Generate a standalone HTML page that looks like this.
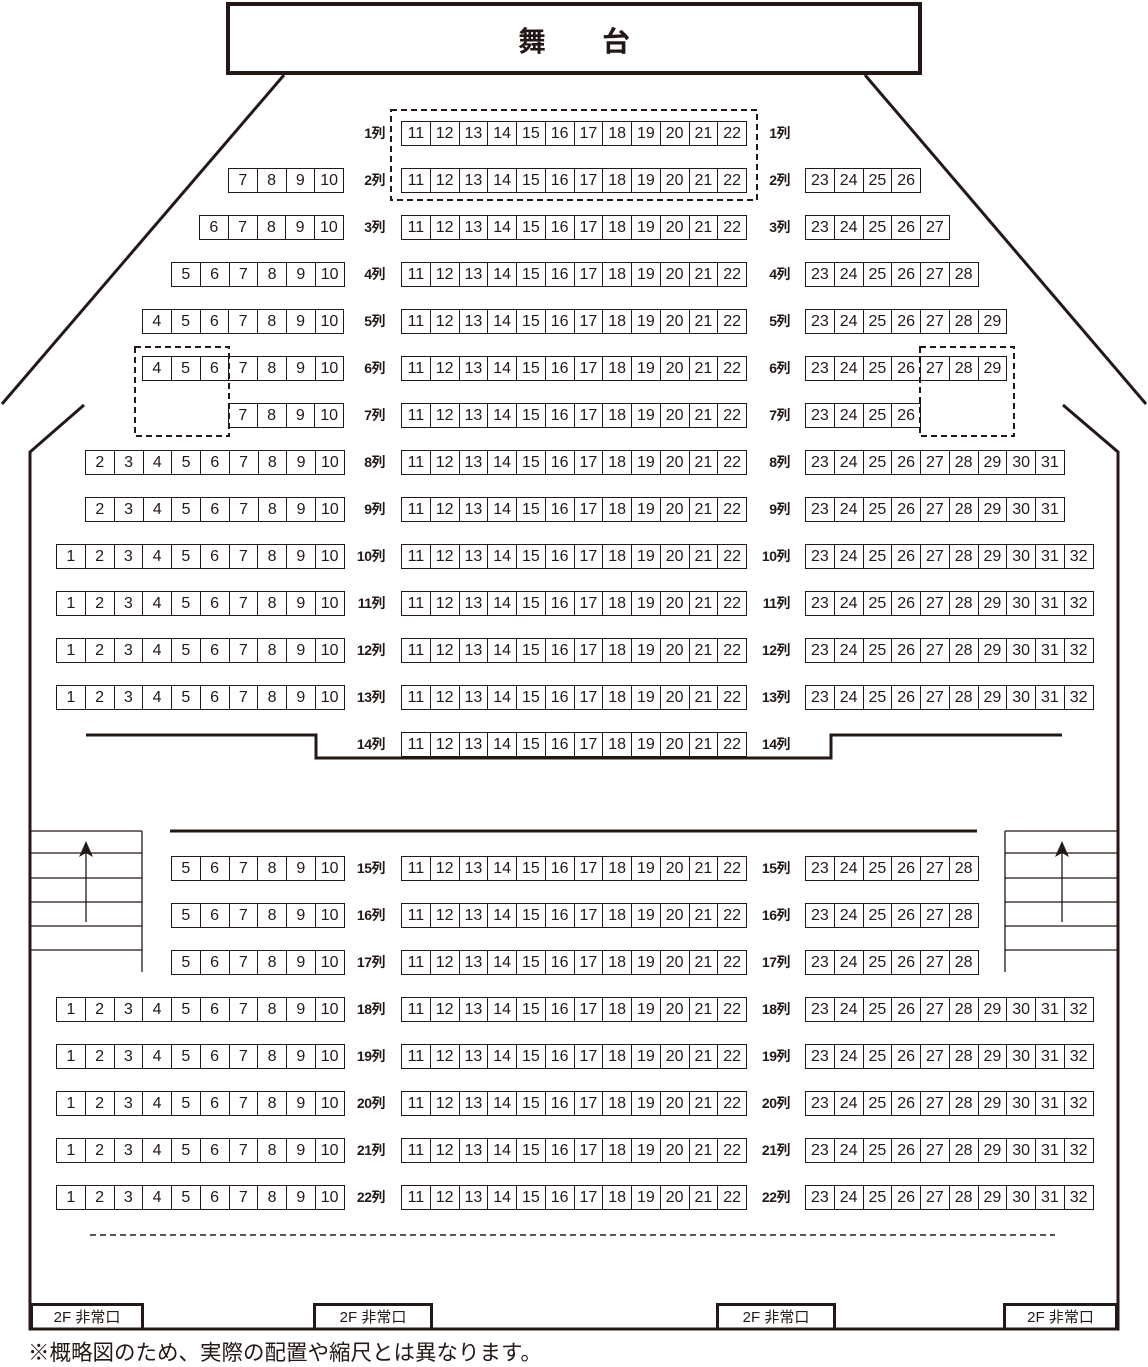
<!DOCTYPE html>
<html><head><meta charset="utf-8">
<style>
html,body{margin:0;padding:0;background:#fff}
body{width:1148px;height:1361px;position:relative;overflow:hidden;font-family:"Liberation Sans","Noto Sans CJK JP",sans-serif;color:#231815}
.b{position:absolute;display:flex;border:1px solid #231815;height:25px;box-sizing:border-box;background:#fff;margin-top:1px}
.b span{flex:none;width:28.75px;box-sizing:border-box;border-left:1px solid #231815;text-align:center;line-height:23px;font-size:16px}
.b span:first-child{border-left:none;width:27.75px}
.l{position:absolute;width:60px;text-align:right;font-size:14px;font-weight:bold;line-height:27px;letter-spacing:-0.5px;font-family:"Liberation Sans","Noto Sans CJK JP",sans-serif}
.ex{position:absolute;top:1303px;height:26px;box-sizing:border-box;border:3px solid #231815;border-bottom:none;text-align:center;font-size:15px;line-height:24px;background:#fff}
svg{position:absolute;left:0;top:0}
</style></head><body>
<svg width="1148" height="1361">
<g stroke="#231815" fill="none">
<rect x="228" y="4" width="692" height="69" stroke-width="4"/>
<line x1="284" y1="75" x2="2" y2="404" stroke-width="3"/>
<line x1="865" y1="75" x2="1146" y2="404" stroke-width="3"/>
<polyline points="84,405 30,452 30,1329 1118,1329 1118,452 1063,405" stroke-width="3"/>
<polyline points="86,735 316,735 316,758 831,758 831,735 1062,735" stroke-width="3"/>
<line x1="170" y1="831" x2="977" y2="831" stroke-width="3"/>
<g stroke-width="1.3">
<line x1="30" y1="831" x2="142" y2="831"/><line x1="30" y1="853" x2="142" y2="853"/><line x1="30" y1="878" x2="142" y2="878"/><line x1="30" y1="902" x2="142" y2="902"/><line x1="30" y1="926" x2="142" y2="926"/><line x1="30" y1="950" x2="142" y2="950"/><line x1="142" y1="831" x2="142" y2="972"/>
<line x1="86" y1="922" x2="86" y2="850"/>
<line x1="1005" y1="831" x2="1118" y2="831"/><line x1="1005" y1="853" x2="1118" y2="853"/><line x1="1005" y1="878" x2="1118" y2="878"/><line x1="1005" y1="902" x2="1118" y2="902"/><line x1="1005" y1="926" x2="1118" y2="926"/><line x1="1005" y1="950" x2="1118" y2="950"/><line x1="1005" y1="831" x2="1005" y2="972"/>
<line x1="1062" y1="922" x2="1062" y2="850"/>
</g>
<line x1="90" y1="1235" x2="1055" y2="1235" stroke-width="1.5" stroke-dasharray="6,4"/>
</g>
<polygon points="86,841 79,857 86,853 93,857" fill="#231815"/>
<polygon points="1062,841 1055,857 1062,853 1069,857" fill="#231815"/>
<text x="574" y="51" font-size="28" font-weight="bold" text-anchor="middle" font-family="Noto Sans CJK JP, sans-serif" fill="#231815">舞　　台</text>
</svg>

<div class="b" style="left:401px;top:120px"><span>11</span><span>12</span><span>13</span><span>14</span><span>15</span><span>16</span><span>17</span><span>18</span><span>19</span><span>20</span><span>21</span><span>22</span></div>
<div class="b" style="left:401px;top:167px"><span>11</span><span>12</span><span>13</span><span>14</span><span>15</span><span>16</span><span>17</span><span>18</span><span>19</span><span>20</span><span>21</span><span>22</span></div>
<div class="b" style="left:401px;top:214px"><span>11</span><span>12</span><span>13</span><span>14</span><span>15</span><span>16</span><span>17</span><span>18</span><span>19</span><span>20</span><span>21</span><span>22</span></div>
<div class="b" style="left:401px;top:261px"><span>11</span><span>12</span><span>13</span><span>14</span><span>15</span><span>16</span><span>17</span><span>18</span><span>19</span><span>20</span><span>21</span><span>22</span></div>
<div class="b" style="left:401px;top:308px"><span>11</span><span>12</span><span>13</span><span>14</span><span>15</span><span>16</span><span>17</span><span>18</span><span>19</span><span>20</span><span>21</span><span>22</span></div>
<div class="b" style="left:401px;top:355px"><span>11</span><span>12</span><span>13</span><span>14</span><span>15</span><span>16</span><span>17</span><span>18</span><span>19</span><span>20</span><span>21</span><span>22</span></div>
<div class="b" style="left:401px;top:402px"><span>11</span><span>12</span><span>13</span><span>14</span><span>15</span><span>16</span><span>17</span><span>18</span><span>19</span><span>20</span><span>21</span><span>22</span></div>
<div class="b" style="left:401px;top:449px"><span>11</span><span>12</span><span>13</span><span>14</span><span>15</span><span>16</span><span>17</span><span>18</span><span>19</span><span>20</span><span>21</span><span>22</span></div>
<div class="b" style="left:401px;top:496px"><span>11</span><span>12</span><span>13</span><span>14</span><span>15</span><span>16</span><span>17</span><span>18</span><span>19</span><span>20</span><span>21</span><span>22</span></div>
<div class="b" style="left:401px;top:543px"><span>11</span><span>12</span><span>13</span><span>14</span><span>15</span><span>16</span><span>17</span><span>18</span><span>19</span><span>20</span><span>21</span><span>22</span></div>
<div class="b" style="left:401px;top:590px"><span>11</span><span>12</span><span>13</span><span>14</span><span>15</span><span>16</span><span>17</span><span>18</span><span>19</span><span>20</span><span>21</span><span>22</span></div>
<div class="b" style="left:401px;top:637px"><span>11</span><span>12</span><span>13</span><span>14</span><span>15</span><span>16</span><span>17</span><span>18</span><span>19</span><span>20</span><span>21</span><span>22</span></div>
<div class="b" style="left:401px;top:684px"><span>11</span><span>12</span><span>13</span><span>14</span><span>15</span><span>16</span><span>17</span><span>18</span><span>19</span><span>20</span><span>21</span><span>22</span></div>
<div class="b" style="left:401px;top:731px"><span>11</span><span>12</span><span>13</span><span>14</span><span>15</span><span>16</span><span>17</span><span>18</span><span>19</span><span>20</span><span>21</span><span>22</span></div>
<div class="b" style="left:401px;top:855px"><span>11</span><span>12</span><span>13</span><span>14</span><span>15</span><span>16</span><span>17</span><span>18</span><span>19</span><span>20</span><span>21</span><span>22</span></div>
<div class="b" style="left:401px;top:902px"><span>11</span><span>12</span><span>13</span><span>14</span><span>15</span><span>16</span><span>17</span><span>18</span><span>19</span><span>20</span><span>21</span><span>22</span></div>
<div class="b" style="left:401px;top:949px"><span>11</span><span>12</span><span>13</span><span>14</span><span>15</span><span>16</span><span>17</span><span>18</span><span>19</span><span>20</span><span>21</span><span>22</span></div>
<div class="b" style="left:401px;top:996px"><span>11</span><span>12</span><span>13</span><span>14</span><span>15</span><span>16</span><span>17</span><span>18</span><span>19</span><span>20</span><span>21</span><span>22</span></div>
<div class="b" style="left:401px;top:1043px"><span>11</span><span>12</span><span>13</span><span>14</span><span>15</span><span>16</span><span>17</span><span>18</span><span>19</span><span>20</span><span>21</span><span>22</span></div>
<div class="b" style="left:401px;top:1090px"><span>11</span><span>12</span><span>13</span><span>14</span><span>15</span><span>16</span><span>17</span><span>18</span><span>19</span><span>20</span><span>21</span><span>22</span></div>
<div class="b" style="left:401px;top:1137px"><span>11</span><span>12</span><span>13</span><span>14</span><span>15</span><span>16</span><span>17</span><span>18</span><span>19</span><span>20</span><span>21</span><span>22</span></div>
<div class="b" style="left:401px;top:1184px"><span>11</span><span>12</span><span>13</span><span>14</span><span>15</span><span>16</span><span>17</span><span>18</span><span>19</span><span>20</span><span>21</span><span>22</span></div>

<div class="b" style="left:228px;top:167px"><span>7</span><span>8</span><span>9</span><span>10</span></div>
<div class="b" style="left:199px;top:214px"><span>6</span><span>7</span><span>8</span><span>9</span><span>10</span></div>
<div class="b" style="left:171px;top:261px"><span>5</span><span>6</span><span>7</span><span>8</span><span>9</span><span>10</span></div>
<div class="b" style="left:142px;top:308px"><span>4</span><span>5</span><span>6</span><span>7</span><span>8</span><span>9</span><span>10</span></div>
<div class="b" style="left:142px;top:355px"><span>4</span><span>5</span><span>6</span><span>7</span><span>8</span><span>9</span><span>10</span></div>
<div class="b" style="left:228px;top:402px"><span>7</span><span>8</span><span>9</span><span>10</span></div>
<div class="b" style="left:85px;top:449px"><span>2</span><span>3</span><span>4</span><span>5</span><span>6</span><span>7</span><span>8</span><span>9</span><span>10</span></div>
<div class="b" style="left:85px;top:496px"><span>2</span><span>3</span><span>4</span><span>5</span><span>6</span><span>7</span><span>8</span><span>9</span><span>10</span></div>
<div class="b" style="left:56px;top:543px"><span>1</span><span>2</span><span>3</span><span>4</span><span>5</span><span>6</span><span>7</span><span>8</span><span>9</span><span>10</span></div>
<div class="b" style="left:56px;top:590px"><span>1</span><span>2</span><span>3</span><span>4</span><span>5</span><span>6</span><span>7</span><span>8</span><span>9</span><span>10</span></div>
<div class="b" style="left:56px;top:637px"><span>1</span><span>2</span><span>3</span><span>4</span><span>5</span><span>6</span><span>7</span><span>8</span><span>9</span><span>10</span></div>
<div class="b" style="left:56px;top:684px"><span>1</span><span>2</span><span>3</span><span>4</span><span>5</span><span>6</span><span>7</span><span>8</span><span>9</span><span>10</span></div>
<div class="b" style="left:171px;top:855px"><span>5</span><span>6</span><span>7</span><span>8</span><span>9</span><span>10</span></div>
<div class="b" style="left:171px;top:902px"><span>5</span><span>6</span><span>7</span><span>8</span><span>9</span><span>10</span></div>
<div class="b" style="left:171px;top:949px"><span>5</span><span>6</span><span>7</span><span>8</span><span>9</span><span>10</span></div>
<div class="b" style="left:56px;top:996px"><span>1</span><span>2</span><span>3</span><span>4</span><span>5</span><span>6</span><span>7</span><span>8</span><span>9</span><span>10</span></div>
<div class="b" style="left:56px;top:1043px"><span>1</span><span>2</span><span>3</span><span>4</span><span>5</span><span>6</span><span>7</span><span>8</span><span>9</span><span>10</span></div>
<div class="b" style="left:56px;top:1090px"><span>1</span><span>2</span><span>3</span><span>4</span><span>5</span><span>6</span><span>7</span><span>8</span><span>9</span><span>10</span></div>
<div class="b" style="left:56px;top:1137px"><span>1</span><span>2</span><span>3</span><span>4</span><span>5</span><span>6</span><span>7</span><span>8</span><span>9</span><span>10</span></div>
<div class="b" style="left:56px;top:1184px"><span>1</span><span>2</span><span>3</span><span>4</span><span>5</span><span>6</span><span>7</span><span>8</span><span>9</span><span>10</span></div>

<div class="b" style="left:805px;top:167px"><span>23</span><span>24</span><span>25</span><span>26</span></div>
<div class="b" style="left:805px;top:214px"><span>23</span><span>24</span><span>25</span><span>26</span><span>27</span></div>
<div class="b" style="left:805px;top:261px"><span>23</span><span>24</span><span>25</span><span>26</span><span>27</span><span>28</span></div>
<div class="b" style="left:805px;top:308px"><span>23</span><span>24</span><span>25</span><span>26</span><span>27</span><span>28</span><span>29</span></div>
<div class="b" style="left:805px;top:355px"><span>23</span><span>24</span><span>25</span><span>26</span><span>27</span><span>28</span><span>29</span></div>
<div class="b" style="left:805px;top:402px"><span>23</span><span>24</span><span>25</span><span>26</span></div>
<div class="b" style="left:805px;top:449px"><span>23</span><span>24</span><span>25</span><span>26</span><span>27</span><span>28</span><span>29</span><span>30</span><span>31</span></div>
<div class="b" style="left:805px;top:496px"><span>23</span><span>24</span><span>25</span><span>26</span><span>27</span><span>28</span><span>29</span><span>30</span><span>31</span></div>
<div class="b" style="left:805px;top:543px"><span>23</span><span>24</span><span>25</span><span>26</span><span>27</span><span>28</span><span>29</span><span>30</span><span>31</span><span>32</span></div>
<div class="b" style="left:805px;top:590px"><span>23</span><span>24</span><span>25</span><span>26</span><span>27</span><span>28</span><span>29</span><span>30</span><span>31</span><span>32</span></div>
<div class="b" style="left:805px;top:637px"><span>23</span><span>24</span><span>25</span><span>26</span><span>27</span><span>28</span><span>29</span><span>30</span><span>31</span><span>32</span></div>
<div class="b" style="left:805px;top:684px"><span>23</span><span>24</span><span>25</span><span>26</span><span>27</span><span>28</span><span>29</span><span>30</span><span>31</span><span>32</span></div>
<div class="b" style="left:805px;top:855px"><span>23</span><span>24</span><span>25</span><span>26</span><span>27</span><span>28</span></div>
<div class="b" style="left:805px;top:902px"><span>23</span><span>24</span><span>25</span><span>26</span><span>27</span><span>28</span></div>
<div class="b" style="left:805px;top:949px"><span>23</span><span>24</span><span>25</span><span>26</span><span>27</span><span>28</span></div>
<div class="b" style="left:805px;top:996px"><span>23</span><span>24</span><span>25</span><span>26</span><span>27</span><span>28</span><span>29</span><span>30</span><span>31</span><span>32</span></div>
<div class="b" style="left:805px;top:1043px"><span>23</span><span>24</span><span>25</span><span>26</span><span>27</span><span>28</span><span>29</span><span>30</span><span>31</span><span>32</span></div>
<div class="b" style="left:805px;top:1090px"><span>23</span><span>24</span><span>25</span><span>26</span><span>27</span><span>28</span><span>29</span><span>30</span><span>31</span><span>32</span></div>
<div class="b" style="left:805px;top:1137px"><span>23</span><span>24</span><span>25</span><span>26</span><span>27</span><span>28</span><span>29</span><span>30</span><span>31</span><span>32</span></div>
<div class="b" style="left:805px;top:1184px"><span>23</span><span>24</span><span>25</span><span>26</span><span>27</span><span>28</span><span>29</span><span>30</span><span>31</span><span>32</span></div>

<div class="l" style="left:325px;top:120px">1列</div><div class="l" style="left:325px;top:167px">2列</div><div class="l" style="left:325px;top:214px">3列</div><div class="l" style="left:325px;top:261px">4列</div><div class="l" style="left:325px;top:308px">5列</div><div class="l" style="left:325px;top:355px">6列</div><div class="l" style="left:325px;top:402px">7列</div><div class="l" style="left:325px;top:449px">8列</div><div class="l" style="left:325px;top:496px">9列</div><div class="l" style="left:325px;top:543px">10列</div><div class="l" style="left:325px;top:590px">11列</div><div class="l" style="left:325px;top:637px">12列</div><div class="l" style="left:325px;top:684px">13列</div><div class="l" style="left:325px;top:731px">14列</div><div class="l" style="left:325px;top:855px">15列</div><div class="l" style="left:325px;top:902px">16列</div><div class="l" style="left:325px;top:949px">17列</div><div class="l" style="left:325px;top:996px">18列</div><div class="l" style="left:325px;top:1043px">19列</div><div class="l" style="left:325px;top:1090px">20列</div><div class="l" style="left:325px;top:1137px">21列</div><div class="l" style="left:325px;top:1184px">22列</div>
<div class="l" style="left:730px;top:120px">1列</div><div class="l" style="left:730px;top:167px">2列</div><div class="l" style="left:730px;top:214px">3列</div><div class="l" style="left:730px;top:261px">4列</div><div class="l" style="left:730px;top:308px">5列</div><div class="l" style="left:730px;top:355px">6列</div><div class="l" style="left:730px;top:402px">7列</div><div class="l" style="left:730px;top:449px">8列</div><div class="l" style="left:730px;top:496px">9列</div><div class="l" style="left:730px;top:543px">10列</div><div class="l" style="left:730px;top:590px">11列</div><div class="l" style="left:730px;top:637px">12列</div><div class="l" style="left:730px;top:684px">13列</div><div class="l" style="left:730px;top:731px">14列</div><div class="l" style="left:730px;top:855px">15列</div><div class="l" style="left:730px;top:902px">16列</div><div class="l" style="left:730px;top:949px">17列</div><div class="l" style="left:730px;top:996px">18列</div><div class="l" style="left:730px;top:1043px">19列</div><div class="l" style="left:730px;top:1090px">20列</div><div class="l" style="left:730px;top:1137px">21列</div><div class="l" style="left:730px;top:1184px">22列</div>

<svg width="1148" height="1361" style="pointer-events:none">
<g stroke="#231815" fill="none" stroke-width="2" stroke-dasharray="6,4">
<rect x="391" y="110" width="366" height="90"/>
<rect x="135" y="347" width="94" height="89"/>
<rect x="920" y="347" width="94" height="89"/>
</g>
</svg>

<div class="ex" style="left:30px;width:114px">2F 非常口</div>
<div class="ex" style="left:313px;width:120px">2F 非常口</div>
<div class="ex" style="left:716px;width:120px">2F 非常口</div>
<div class="ex" style="left:1003px;width:115px">2F 非常口</div>
<svg width="1148" height="1361" style="pointer-events:none"><line x1="30" y1="1329" x2="1119" y2="1329" stroke="#231815" stroke-width="3"/></svg>

<div style="position:absolute;left:28px;top:1338px;font-size:21.5px;line-height:27px;font-family:'Noto Sans CJK JP',sans-serif">※概略図のため、実際の配置や縮尺とは異なります。</div>
</body></html>
